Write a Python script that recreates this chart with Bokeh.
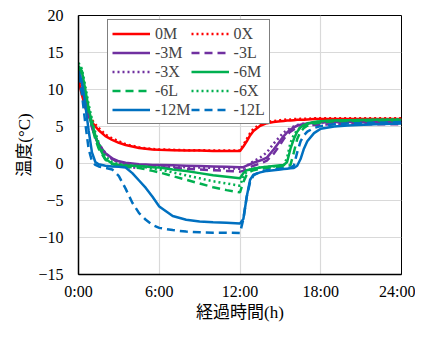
from bokeh.plotting import figure
from bokeh.models import Range1d, FixedTicker, Legend, LegendItem
from bokeh.embed import file_html
from bokeh.resources import INLINE

hours = [0, 0.25, 0.5, 0.75, 1, 1.25, 1.5, 2, 2.5, 3, 3.5, 4, 4.5, 5, 5.5, 6, 7, 8, 9, 10, 11, 12,
         12.25, 12.5, 12.75, 13, 13.5, 14, 14.5, 15, 15.25, 15.5, 15.75, 16, 16.25, 16.5, 16.75, 17,
         17.5, 18, 19, 20, 22, 24]

t_0M = [11.2, 9.3, 7.6, 6.4, 5.6, 5.0, 4.5, 3.7, 3.2, 2.8, 2.5, 2.3, 2.1, 2.0, 1.9, 1.85, 1.8, 1.75, 1.75, 1.7, 1.7, 1.7,
        2.3, 3.0, 3.8, 4.4, 5.1, 5.45, 5.6, 5.7, 5.75, 5.8, 5.8, 5.85, 5.9, 5.9, 5.9, 5.95,
        6.0, 6.0, 6.0, 6.0, 6.0, 6.0]
t_0X = [11.6, 9.8, 8.0, 6.8, 5.9, 5.3, 4.8, 3.9, 3.4, 3.0, 2.6, 2.4, 2.2, 2.05, 1.95, 1.9, 1.85, 1.8, 1.8, 1.75, 1.75, 1.75,
        2.5, 3.3, 4.1, 4.7, 5.3, 5.6, 5.75, 5.85, 5.9, 5.95, 5.95, 6.0, 6.0, 6.05, 6.05, 6.05,
        6.1, 6.1, 6.1, 6.1, 6.1, 6.1]
t_3M = [12.3, 11.0, 9.0, 7.0, 5.0, 3.6, 2.6, 1.4, 0.7, 0.3, 0.1, 0.0, -0.1, -0.15, -0.2, -0.2, -0.25, -0.3, -0.35, -0.4, -0.45, -0.5,
        -0.5, -0.3, -0.1, 0.1, 0.4, 0.8, 1.9, 3.1, 3.7, 4.2, 4.6, 4.9, 5.1, 5.25, 5.35, 5.4,
        5.5, 5.55, 5.6, 5.6, 5.6, 5.6]
t_3L = [12.0, 10.8, 8.8, 6.8, 4.9, 3.5, 2.5, 1.3, 0.6, 0.2, -0.1, -0.2, -0.3, -0.4, -0.45, -0.5, -0.6, -0.7, -0.8, -0.9, -1.0, -1.1,
        -1.0, -0.7, -0.5, -0.3, 0.0, 0.4, 1.3, 2.6, 3.3, 3.9, 4.3, 4.6, 4.8, 5.0, 5.1, 5.15,
        5.2, 5.25, 5.3, 5.3, 5.3, 5.3]
t_3X = [12.6, 11.3, 9.3, 7.2, 5.2, 3.7, 2.7, 1.4, 0.6, 0.1, -0.4, -0.6, -0.5, -0.4, -0.4, -0.4, -0.45, -0.5, -0.55, -0.6, -0.65, -0.7,
        -0.6, -0.3, 0.0, 0.3, 0.8, 1.5, 2.7, 3.7, 4.2, 4.5, 4.8, 5.0, 5.2, 5.3, 5.4, 5.45,
        5.5, 5.55, 5.6, 5.6, 5.6, 5.6]
t_6M = [13.2, 12.5, 10.0, 7.5, 5.5, 3.8, 2.3, 0.6, 0.0, -0.2, -0.3, -0.3, -0.35, -0.4, -0.5, -0.55, -0.8, -1.0, -1.3, -1.6, -1.8, -2.0,
        -1.3, -0.9, -0.8, -0.7, -0.55, -0.45, -0.35, -0.25, -0.2, 0.2, 2.0, 3.3, 4.3, 4.9, 5.2, 5.4,
        5.6, 5.7, 5.8, 5.85, 5.9, 5.9]
t_6L = [13.0, 12.0, 9.5, 7.0, 5.0, 3.3, 2.0, 0.5, -0.1, -0.3, -0.4, -0.5, -0.6, -0.8, -1.0, -1.2, -1.7, -2.2, -2.7, -3.2, -3.6, -3.9,
        -2.5, -1.5, -1.1, -0.9, -0.7, -0.6, -0.5, -0.45, -0.4, -0.35, -0.2, 1.5, 3.3, 4.3, 4.8, 5.1,
        5.4, 5.55, 5.7, 5.75, 5.8, 5.8]
t_6X = [13.6, 12.8, 10.5, 8.0, 6.0, 4.2, 2.8, 1.0, 0.2, -0.1, -0.2, -0.3, -0.4, -0.5, -0.65, -0.8, -1.2, -1.6, -2.0, -2.4, -2.7, -3.0,
        -1.8, -1.1, -0.8, -0.7, -0.55, -0.45, -0.4, -0.35, -0.25, 0.8, 2.8, 3.9, 4.5, 4.9, 5.2, 5.35,
        5.55, 5.7, 5.8, 5.85, 5.9, 6.0]
t_12M = [12.5, 11.0, 8.0, 4.5, 1.5, 0.2, -0.1, -0.3, -0.4, -0.45, -0.55, -1.3, -2.3, -3.3, -4.5, -5.8, -7.1, -7.6, -7.85, -7.95, -8.0, -8.1,
         -7.5, -4.5, -2.2, -1.5, -1.2, -1.0, -0.9, -0.8, -0.75, -0.7, -0.65, -0.6, -0.3, 0.6, 2.0, 3.0,
         4.1, 4.7, 5.0, 5.15, 5.3, 5.4]
t_12L = [12.0, 9.5, 5.5, 2.0, 0.3, -0.2, -0.4, -0.6, -0.8, -1.7, -3.4, -5.3, -6.7, -7.6, -8.3, -8.7, -9.0, -9.2, -9.3, -9.35, -9.35, -9.4,
         -7.5, -4.5, -2.5, -1.6, -1.1, -0.9, -0.8, -0.7, -0.65, -0.6, -0.55, -0.3, 1.5, 3.0, 3.8, 4.3,
         4.8, 5.05, 5.3, 5.4, 5.5, 5.6]

series_names = ["0M", "0X", "-3M", "-3L", "-3X", "-6M", "-6L", "-6X", "-12M", "-12L"]
series_values = [t_0M, t_0X, t_3M, t_3L, t_3X, t_6M, t_6L, t_6X, t_12M, t_12L]
series_colors = ["#ff0000", "#ff0000", "#7030a0", "#7030a0", "#7030a0",
                 "#00b050", "#00b050", "#00b050", "#0070c0", "#0070c0"]
series_dash = ["solid", "2 3", "solid", "8 5", "2 3", "solid", "8 5", "2 3", "solid", "8 5"]

x_ticks = [0, 6, 12, 18, 24]
x_tick_labels = ["0:00", "6:00", "12:00", "18:00", "24:00"]
y_ticks = [-15, -10, -5, 0, 5, 10, 15, 20]

SERIF = "Liberation Serif, 'Noto Sans CJK JP'"

p = figure(width=415, height=324, output_backend="svg", toolbar_location=None,
           x_range=Range1d(0, 24), y_range=Range1d(-15, 20))
p.min_border_left = 78
p.min_border_right = 14
p.min_border_top = 15
p.min_border_bottom = 30
p.background_fill_color = "white"
p.border_fill_color = "white"
p.outline_line_color = "black"
p.outline_line_width = 1

items = []
for name, vals, col, dash in zip(series_names, series_values, series_colors, series_dash):
    r = p.line(hours, vals, line_color=col, line_width=2.5, line_dash=dash)
    items.append(LegendItem(label=name, renderers=[r]))

p.xaxis.ticker = FixedTicker(ticks=x_ticks)
p.xaxis.major_label_overrides = {t: l for t, l in zip(x_ticks, x_tick_labels)}
p.yaxis.ticker = FixedTicker(ticks=y_ticks)
for ax in (p.xaxis[0], p.yaxis[0]):
    ax.axis_line_color = "black"
    ax.axis_line_width = 1.5
    ax.major_tick_out = 0
    ax.major_tick_in = 0
    ax.minor_tick_out = 0
    ax.minor_tick_in = 0
    ax.major_label_text_font = SERIF
    ax.major_label_text_font_size = "16px"
    ax.major_label_text_color = "black"
    ax.axis_label_text_font = SERIF
    ax.axis_label_text_font_size = "17px"
    ax.axis_label_text_font_style = "normal"
    ax.axis_label_text_color = "black"
p.xaxis.major_label_standoff = 8
p.yaxis.major_label_standoff = 15
p.xaxis.axis_label = "経過時間(h)"
p.yaxis.axis_label = "温度(°C)"
p.xaxis.axis_label_standoff = 0
p.yaxis.axis_label_standoff = 1

p.xgrid.grid_line_color = "#d9d9d9"
p.ygrid.grid_line_color = "#d9d9d9"
p.xgrid.grid_line_width = 1.2
p.ygrid.grid_line_width = 1.2

legend = Legend(items=items, location=(29, 150), orientation="horizontal", ncols=2,
                label_text_font=SERIF, label_text_font_size="16px",
                glyph_width=38, glyph_height=19, label_height=19, label_standoff=5,
                spacing=0, padding=4, margin=0,
                border_line_color="black", border_line_width=1,
                background_fill_color="white", background_fill_alpha=1)
p.add_layout(legend, "center")

open("out.html", "w").write(file_html(p, INLINE))
